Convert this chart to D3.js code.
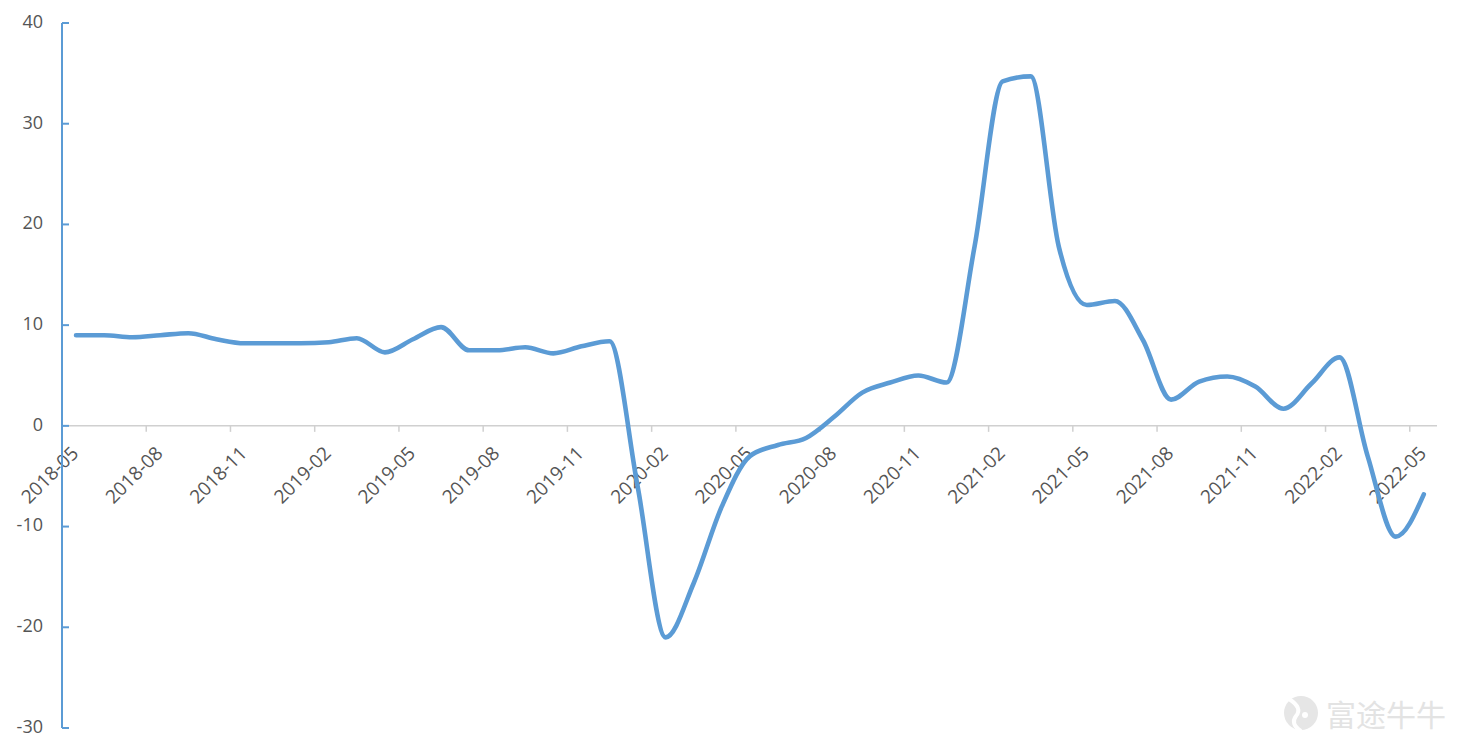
<!DOCTYPE html>
<html><head><meta charset="utf-8">
<script src="https://cdn.jsdelivr.net/npm/d3@7"></script>
<style>html,body{margin:0;padding:0;background:#fff;}svg{display:block;font-family:"Open Sans","Noto Sans",sans-serif;}</style>
</head><body>
<svg id="c" width="1464" height="752"></svg>
<script>
const months = ["2018-05","2018-06","2018-07","2018-08","2018-09","2018-10","2018-11","2018-12",
"2019-01","2019-02","2019-03","2019-04","2019-05","2019-06","2019-07","2019-08","2019-09","2019-10","2019-11","2019-12",
"2020-01","2020-02","2020-03","2020-04","2020-05","2020-06","2020-07","2020-08","2020-09","2020-10","2020-11","2020-12",
"2021-01","2021-02","2021-03","2021-04","2021-05","2021-06","2021-07","2021-08","2021-09","2021-10","2021-11","2021-12",
"2022-01","2022-02","2022-03","2022-04","2022-05"];
const values = [9.0,9.0,8.8,9.0,9.2,8.6,8.2,8.2,8.2,8.3,8.7,7.3,8.6,9.8,7.5,7.5,7.8,7.2,7.9,8.4,
-6.0,-21.0,-15.6,-8.0,-3.0,-1.9,-1.2,0.9,3.3,4.3,5.0,4.3,17.8,34.2,34.7,17.8,12.0,12.4,8.5,2.6,
4.4,4.9,3.9,1.7,4.2,6.8,-3.0,-11.0,-6.8];
const tickLabels = ["2018-05","2018-08","2018-11","2019-02","2019-05","2019-08","2019-11","2020-02","2020-05","2020-08","2020-11","2021-02","2021-05","2021-08","2021-11","2022-02","2022-05"];
const yTicks = [-30,-20,-10,0,10,20,30,40];

const svg = d3.select("#c");
const parse = d3.timeParse("%Y-%m");
const x = d3.scaleLinear().domain([0, 48.97]).range([62, 1437]);
const monthIdx = m => { const d = parse(m); return (d.getFullYear()-2018)*12 + d.getMonth() - 4; };
const y = d3.scaleLinear().domain([-30, 40]).range([728, 23]);
const blue = "#5b9bd5";

// x axis line at 0
svg.append("line").attr("x1",62).attr("x2",1437).attr("y1",y(0)).attr("y2",y(0))
  .attr("stroke","#d0d0d0").attr("stroke-width",1.5);
const xt = svg.append("g");
tickLabels.forEach(t => {
  const px = x(monthIdx(t));
  xt.append("line").attr("x1",px).attr("x2",px).attr("y1",y(0)).attr("y2",y(0)+6)
    .attr("stroke","#d0d0d0").attr("stroke-width",1.5);
  xt.append("text").attr("transform",`translate(${px+14},${y(0)+25}) rotate(-45)`)
    .attr("text-anchor","end").attr("dominant-baseline","middle")
    .attr("fill","#555").attr("font-size",19).text(t);
});

// y axis
svg.append("line").attr("x1",62).attr("x2",62).attr("y1",y(40)).attr("y2",y(-30))
  .attr("stroke",blue).attr("stroke-width",2);
yTicks.forEach(v => {
  svg.append("line").attr("x1",62).attr("x2",69).attr("y1",y(v)).attr("y2",y(v))
    .attr("stroke",blue).attr("stroke-width",2);
  svg.append("text").attr("x",43).attr("y",y(v)).attr("text-anchor","end")
    .attr("dominant-baseline","middle").attr("fill","#555").attr("font-size",18).text(v);
});

// line
const line = d3.line().x((d,i)=>x(i+0.5)).y(d=>y(d)).curve(d3.curveMonotoneX);
svg.append("path").datum(values).attr("d",line).attr("fill","none")
  .attr("stroke",blue).attr("stroke-width",4.6).attr("stroke-linecap","round").attr("stroke-linejoin","round");

// watermark
const wm = svg.append("g");
wm.append("circle").attr("cx",1301).attr("cy",713).attr("r",17).attr("fill","#e6e6e6");
wm.append("path").attr("d","M1289,699 Q1303,708 1296,716 Q1290,724 1301,731").attr("stroke","#fff").attr("stroke-width",4).attr("fill","none");
wm.append("circle").attr("cx",1305).attr("cy",715).attr("r",3).attr("fill","#fff");
wm.append("text").attr("x",1326).attr("y",726).attr("font-family","'Noto Sans CJK SC',sans-serif")
  .attr("font-size",30).attr("fill","#e3e3e3").text("富途牛牛");
</script>
</body></html>
